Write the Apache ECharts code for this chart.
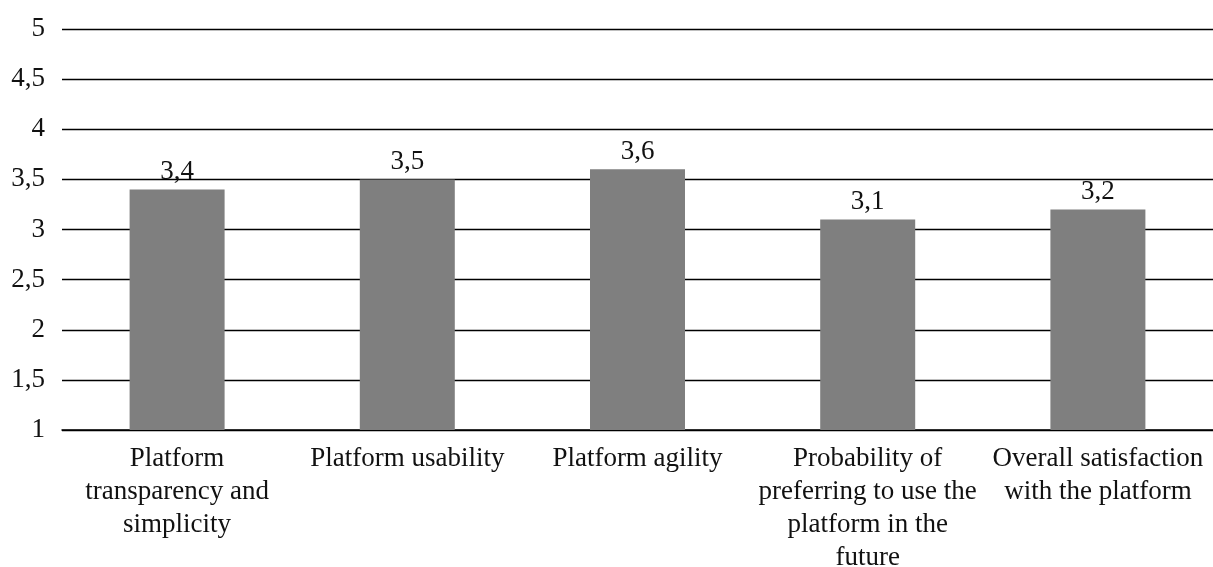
<!DOCTYPE html>
<html>
<head>
<meta charset="utf-8">
<style>
  html, body { margin: 0; padding: 0; background: #fff; }
  #chart { width: 1213px; height: 567px; }
</style>
<script src="https://cdn.jsdelivr.net/npm/echarts@6/dist/echarts.min.js"></script>
</head>
<body>
<div id="chart"></div>
<script>
// Average ratings per platform aspect (scale 1–5)
const categories = [
  'Platform\ntransparency and\nsimplicity',
  'Platform usability',
  'Platform agility',
  'Probability of\npreferring to use the\nplatform in the\nfuture',
  'Overall satisfaction\nwith the platform'
];
const ratings = [3.4, 3.5, 3.6, 3.1, 3.2];
const yMin = 1, yMax = 5, yStep = 0.5;

const fontFamily = '"Liberation Serif", "Times New Roman", serif';
const fontSize = 27;
const commaDecimal = v => String(v).replace('.', ',');

const chart = echarts.init(document.getElementById('chart'));
chart.setOption({
  animation: false,
  grid: {
    left: 62, right: 0, top: 29, bottom: 137,
    containLabel: false,
    outerBoundsMode: 'none'
  },
  xAxis: {
    type: 'category',
    data: categories,
    axisLine: { show: true, lineStyle: { color: '#000', width: 1.5 } },
    axisTick: { show: false },
    axisLabel: {
      interval: 0,
      margin: 12,
      color: '#111',
      fontFamily,
      fontSize,
      lineHeight: 33
    }
  },
  yAxis: {
    type: 'value',
    min: yMin,
    max: yMax,
    interval: yStep,
    axisLine: { show: false },
    axisTick: { show: false },
    splitLine: { lineStyle: { color: '#000', width: 1.3 } },
    axisLabel: {
      margin: 17,
      color: '#111',
      fontFamily,
      fontSize,
      formatter: v => commaDecimal(v)
    }
  },
  series: [{
    type: 'bar',
    data: ratings,
    barWidth: 95,
    itemStyle: { color: '#7f7f7f' },
    label: {
      show: true,
      position: 'top',
      distance: 4,
      color: '#111',
      fontFamily,
      fontSize,
      formatter: p => commaDecimal(p.value)
    }
  }]
});
</script>
</body>
</html>
